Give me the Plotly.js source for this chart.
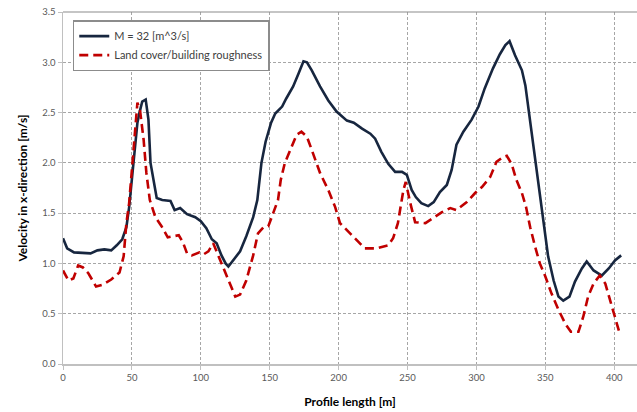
<!DOCTYPE html>
<html>
<head>
<meta charset="utf-8">
<script src="https://cdn.plot.ly/plotly-3.0.1.min.js"></script>
<style>html,body{margin:0;padding:0;background:#fff;}#chart{width:637px;height:412px;}</style>
</head>
<body>
<div id="chart"></div>
<script>
// Series 1: M = 32 [m^3/s]
const xM = [0,3,8,15,20,25,30,35,39,43,46,48,51,54,55.5,57.5,60,62,63.5,66,68,72,78,81,85,90,96,100,104,108,111.5,115,118,120,123.5,128.5,133,138,141,144,147,151,154,159,162,167,171,174.5,177,180.5,186.5,192.5,198.5,206,211,217,223,226.5,231,236,241,246,249.5,253,256,260,265,269,273.5,278.5,282,285.5,290.5,296.5,301.5,306,312,317,321,324,328,333,335.5,338.5,341.5,344,346,349,352,356,359.5,363,367.5,371.5,376.5,380,385,391,396,400.5,405];
const yM = [1.25,1.15,1.11,1.10,1.10,1.13,1.14,1.13,1.18,1.24,1.36,1.56,2.00,2.40,2.50,2.61,2.63,2.43,2.00,1.78,1.65,1.63,1.62,1.53,1.55,1.49,1.46,1.42,1.35,1.24,1.20,1.08,1.00,0.97,1.03,1.12,1.27,1.46,1.63,2.00,2.21,2.40,2.49,2.56,2.64,2.76,2.89,3.01,3.00,2.92,2.76,2.62,2.51,2.42,2.40,2.34,2.29,2.24,2.11,1.99,1.91,1.91,1.88,1.73,1.66,1.60,1.57,1.61,1.71,1.78,1.93,2.18,2.31,2.43,2.56,2.74,2.94,3.08,3.17,3.21,3.07,2.92,2.77,2.46,2.16,1.90,1.65,1.33,1.07,0.83,0.67,0.63,0.67,0.82,0.95,1.02,0.93,0.88,0.95,1.03,1.08];

// Series 2: Land cover/building roughness
const xL = [0,4,7.5,11,14.5,18.5,24,29,35,41,44,46,48,50.5,52,54,56,58.5,60.5,63,67,71.5,76,80,84,87,90,93.5,99,102,105.5,109,112.5,116,120.5,125,128.5,133,138,141.5,145.5,149,152.5,156,158,161,165,169.5,173,177,181,186.5,192.5,197.5,201,206,213,219,227.5,236,239.5,243,247,248.7,252,255.5,263,268.5,275,281,285.5,293,299,304,310,314.5,319.5,322,325.5,329,333,336,339,342.5,346,350,354.5,359.5,364.5,368.5,374,377.5,381,385,389.5,393.5,397,400.5,404];
const yL = [0.93,0.83,0.85,0.98,0.96,0.90,0.77,0.79,0.84,0.91,1.07,1.40,1.60,2.00,2.29,2.60,2.51,2.23,1.90,1.63,1.46,1.37,1.26,1.27,1.28,1.21,1.10,1.08,1.11,1.09,1.12,1.20,1.08,0.97,0.82,0.67,0.69,0.83,1.08,1.30,1.36,1.37,1.50,1.63,1.83,2.00,2.13,2.28,2.31,2.26,2.11,1.90,1.73,1.56,1.40,1.33,1.23,1.15,1.15,1.18,1.25,1.40,1.73,1.81,1.60,1.41,1.40,1.45,1.51,1.55,1.53,1.61,1.70,1.76,1.86,2.01,2.06,2.07,1.99,1.83,1.70,1.56,1.36,1.17,1.00,0.87,0.70,0.54,0.40,0.32,0.32,0.47,0.67,0.80,0.88,0.80,0.64,0.47,0.30];

const seriesNames = ['M = 32 [m^3/s]', 'Land cover/building roughness'];
const xTitle = 'Profile length [m]';
const yTitle = 'Velocity in x-direction [m/s]';

const FONT = "Lato, 'Open Sans', sans-serif";

const traces = [
  {x: xM, y: yM, name: seriesNames[0], type: 'scatter', mode: 'lines',
   line: {color: '#17263f', width: 2.6}},
  {x: xL, y: yL, name: seriesNames[1], type: 'scatter', mode: 'lines',
   line: {color: '#c00000', width: 2.6, dash: '9px,5px'}}
];

const layout = {
  width: 637, height: 412,
  margin: {l: 63, r: 0, t: 12, b: 48},
  paper_bgcolor: '#ffffff', plot_bgcolor: '#ffffff',
  font: {family: FONT, size: 9, color: '#595959'},
  showlegend: true,
  legend: {x: 0.017, y: 0.977, xanchor: 'left', yanchor: 'top',
    bgcolor: '#ffffff', bordercolor: '#8c8c8c', borderwidth: 1.5,
    font: {family: FONT, size: 11, color: '#404040'},
    itemwidth: 30, tracegroupgap: 4},
  xaxis: {range: [0, 416.5], tickvals: [0,50,100,150,200,250,300,350,400],
    showgrid: true, gridcolor: '#a6a6a6', griddash: '3px,2px', gridwidth: 1,
    zeroline: false, showline: true, linecolor: '#c0c0c0', linewidth: 1.5,
    ticks: 'outside', ticklen: 4, tickcolor: '#c0c0c0',
    tickfont: {family: FONT, size: 9.5, color: '#595959'},
    title: {text: '<b>' + xTitle + '</b>', font: {family: FONT, size: 12, color: '#000000'}, standoff: 15}},
  yaxis: {range: [0, 3.5], dtick: 0.5, tickformat: '.1f',
    showgrid: true, gridcolor: '#a6a6a6', griddash: '3px,2px', gridwidth: 1,
    zeroline: false, showline: true, linecolor: '#c0c0c0', linewidth: 1.5,
    ticks: 'outside', ticklen: 4, tickcolor: '#c0c0c0',
    tickfont: {family: FONT, size: 9.5, color: '#595959'},
    title: {text: '<b>' + yTitle + '</b>', font: {family: FONT, size: 12, color: '#000000'}, standoff: 12}},
  shapes: [{type: 'line', xref: 'paper', yref: 'paper', x0: 0, x1: 1, y0: 1, y1: 1,
    line: {color: '#8c8c8c', width: 1.2}}],
  hovermode: false
};

Plotly.newPlot('chart', traces, layout, {displayModeBar: false, staticPlot: true});
</script>
</body>
</html>
